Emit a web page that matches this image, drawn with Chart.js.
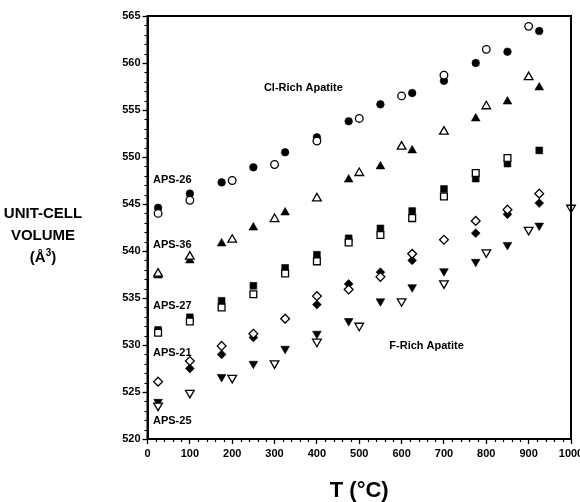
<!DOCTYPE html>
<html>
<head>
<meta charset="utf-8">
<script src="https://cdn.jsdelivr.net/npm/chart.js@4.4.1/dist/chart.umd.min.js"></script>
<style>
    html, body { margin: 0; padding: 0; background: #fff; overflow: hidden; }
    #wrap { width: 580px; height: 502px; overflow: hidden; }
</style>
</head>
<body>
<div id="wrap"><canvas id="volume-chart" width="600" height="502"></canvas></div>
<script>
// temperatures (°C): heating steps and cooling steps
const heatTemps = [25, 100, 175, 250, 325, 400, 475, 550, 625, 700, 775, 850, 925];
const coolTemps = [25, 100, 200, 300, 400, 500, 600, 700, 800, 900];
const coolTemps25 = [25, 100, 200, 300, 400, 500, 600, 700, 800, 900, 1000];

// unit-cell volumes (Å^3), null = not visible in the figure
const aps26Heat = [544.6, 546.1, 547.3, 548.9, 550.5, 552.1, 553.8, 555.6, 556.8, 558.1, 560.0, 561.2, 563.4];
const aps26Cool = [544.0, 545.4, 547.5, 549.2, 551.7, 554.1, 556.5, 558.7, 561.45, 563.9];

const aps36Heat = [537.4, 539.0, 540.8, 542.5, 544.1, null, 547.6, 549.0, 550.7, null, 554.1, 555.9, 557.4];
const aps36Cool = [537.6, 539.4, 541.2, 543.4, 545.6, 548.3, 551.1, 552.7, 555.4, 558.5];

const aps27Heat = [531.6, 532.95, 534.7, 536.3, 538.2, 539.6, 541.35, 542.4, 544.25, 546.6, 547.7, 549.3, 550.7];
const aps27Cool = [531.3, 532.5, 534.0, 535.4, 537.6, 538.9, 540.9, 541.7, 543.5, 545.8, 548.3, 549.9, null];

const aps21Heat = [null, 527.5, 529.0, 530.8, null, 534.3, 536.5, 537.75, 539.0, null, 541.9, 543.9, 545.1];
const aps21Cool = [526.1, 528.3, 529.9, 531.2, 532.8, 535.2, 535.9, 537.25, 539.7, 541.2, 543.2, 544.4, 546.1];

const aps25Heat = [523.95, null, 526.6, 528.0, 529.6, 531.2, 532.55, 534.65, 536.15, 537.85, 538.85, 540.65, 542.7];
const aps25Cool = [523.55, 524.9, 526.5, 528.05, 530.35, 532.05, 534.65, 536.55, 539.85, 542.25, 544.6];

const xTicks = [0, 1000, 100];
const yTicks = [520, 565, 5];

const notes = [
    { text: 'APS-26', x: 13, y: 547.55, align: 'left' },
    { text: 'APS-36', x: 13, y: 540.6, align: 'left' },
    { text: 'APS-27', x: 13, y: 534.2, align: 'left' },
    { text: 'APS-21', x: 13, y: 529.15, align: 'left' },
    { text: 'APS-25', x: 13, y: 521.95, align: 'left' },
    { text: 'Cl-Rich Apatite', x: 368, y: 557.3, align: 'center' },
    { text: 'F-Rich Apatite', x: 659, y: 529.9, align: 'center' },
];

const FONT = '"Liberation Sans", Arial, sans-serif';
Chart.defaults.font.family = FONT;
Chart.defaults.color = '#000';

function pairs(temps, vals) {
    return temps.map((t, i) => ({ x: t, y: vals[i] })).filter(p => p.y !== null);
}

function marker(label, temps, vals, style, filled, radius, rotation) {
    return {
        label: label,
        data: pairs(temps, vals),
        showLine: false,
        pointStyle: style,
        pointRadius: radius,
        pointHoverRadius: radius,
        pointRotation: rotation || 0,
        pointBackgroundColor: filled ? '#000' : '#fff',
        pointBorderColor: '#000',
        pointBorderWidth: filled ? 0.6 : 1.3,
        order: filled ? 2 : 1,
        clip: false,
    };
}

const datasets = [
    marker('APS-26 heating', heatTemps, aps26Heat, 'circle', true, 3.8),
    marker('APS-26 cooling', coolTemps, aps26Cool, 'circle', false, 3.8),
    marker('APS-36 heating', heatTemps, aps36Heat, 'triangle', true, 5),
    marker('APS-36 cooling', coolTemps, aps36Cool, 'triangle', false, 5),
    marker('APS-27 heating', heatTemps, aps27Heat, 'rect', true, 4.8),
    marker('APS-27 cooling', heatTemps, aps27Cool, 'rect', false, 4.8),
    marker('APS-21 heating', heatTemps, aps21Heat, 'rectRot', true, 4.4),
    marker('APS-21 cooling', heatTemps, aps21Cool, 'rectRot', false, 4.4),
    marker('APS-25 heating', heatTemps, aps25Heat, 'triangle', true, 5, 180),
    marker('APS-25 cooling', coolTemps25, aps25Cool, 'triangle', false, 5, 180),
];

const decorations = {
    id: 'decorations',
    afterDraw(chart) {
        const { ctx, chartArea: a, scales: { x, y } } = chart;
        ctx.save();
        ctx.strokeStyle = '#000';

        // frame
        ctx.lineWidth = 2;
        ctx.strokeRect(a.left, a.top, a.right - a.left, a.bottom - a.top);

        // minor ticks
        ctx.lineWidth = 1.2;
        ctx.beginPath();
        for (let v = yTicks[0]; v <= yTicks[1]; v++) {
            if (v % yTicks[2] === 0) continue;
            const py = Math.round(y.getPixelForValue(v)) + 0.5;
            ctx.moveTo(a.left - 3, py);
            ctx.lineTo(a.left, py);
        }
        for (let t = xTicks[0]; t <= xTicks[1]; t += 20) {
            if (t % xTicks[2] === 0) continue;
            const px = Math.round(x.getPixelForValue(t)) + 0.5;
            ctx.moveTo(px, a.bottom);
            ctx.lineTo(px, a.bottom + 3);
        }
        ctx.stroke();

        // notes
        ctx.fillStyle = '#000';
        ctx.textBaseline = 'middle';
        ctx.font = 'bold 11px ' + FONT;
        notes.forEach(n => {
            ctx.textAlign = n.align;
            ctx.fillText(n.text, x.getPixelForValue(n.x), y.getPixelForValue(n.y));
        });

        // y axis title
        const cx = 43;
        ctx.textAlign = 'center';
        ctx.font = 'bold 15px ' + FONT;
        ctx.fillText('UNIT-CELL', cx, 214);
        ctx.fillText('VOLUME', cx, 236);
        const w1 = ctx.measureText('(Å').width;
        const w3 = ctx.measureText(')').width;
        ctx.font = 'bold 10px ' + FONT;
        const w2 = ctx.measureText('3').width;
        let sx = cx - (w1 + w2 + w3) / 2;
        ctx.textAlign = 'left';
        ctx.font = 'bold 15px ' + FONT;
        ctx.fillText('(Å', sx, 258);
        ctx.font = 'bold 10px ' + FONT;
        ctx.fillText('3', sx + w1, 253);
        ctx.font = 'bold 15px ' + FONT;
        ctx.fillText(')', sx + w1 + w2, 258);
        ctx.restore();
    }
};

const ctx = document.getElementById('volume-chart').getContext('2d');
const volumeChart = new Chart(ctx, {
    type: 'scatter',
    data: { datasets: datasets },
    options: {
        responsive: false,
        animation: false,
        events: [],
        layout: { padding: { left: 0, right: 29, top: 16, bottom: 0 } },
        plugins: { legend: { display: false }, tooltip: { enabled: false } },
        scales: {
            x: {
                type: 'linear',
                min: xTicks[0],
                max: xTicks[1],
                afterFit: s => { s.height = 63; },
                ticks: {
                    stepSize: xTicks[2],
                    autoSkip: false,
                    maxRotation: 0,
                    padding: 3,
                    font: { size: 11, weight: 'bold' },
                    callback: v => String(v),
                },
                grid: { drawOnChartArea: false, tickLength: 5, tickWidth: 1.3, tickColor: '#000' },
                border: { display: true, color: '#000', width: 2 },
                title: {
                    display: true,
                    text: 'T (°C)',
                    font: { size: 22, weight: 'bold', lineHeight: 1 },
                    padding: { top: 0, bottom: 0 },
                },
            },
            y: {
                min: yTicks[0],
                max: yTicks[1],
                afterFit: s => { s.width = 147.5; },
                ticks: {
                    stepSize: yTicks[2],
                    padding: 2,
                    font: { size: 11, weight: 'bold' },
                    callback: v => String(v),
                },
                grid: { drawOnChartArea: false, tickLength: 5, tickWidth: 1.3, tickColor: '#000' },
                border: { display: true, color: '#000', width: 2 },
            },
        },
    },
    plugins: [decorations],
});
</script>
</body>
</html>
